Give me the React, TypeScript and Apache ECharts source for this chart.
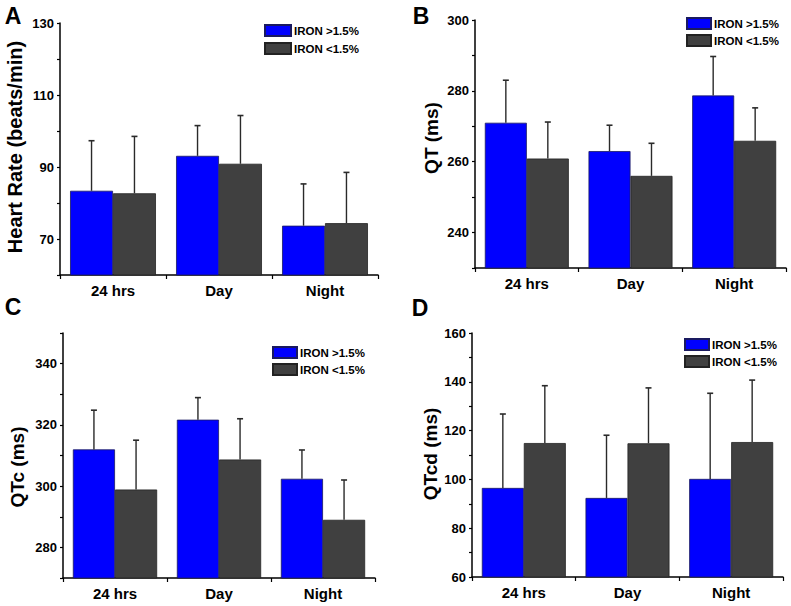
import React, { useEffect, useRef } from 'react';
import * as echarts from 'echarts';

const categories = ['24 hrs', 'Day', 'Night'];
const legendNames = ['IRON >1.5%', 'IRON <1.5%'];

// Panel A: Heart Rate (beats/min)
const hrHighMean = [83.4, 93.1, 73.7];
const hrHighSd = [13.9, 8.4, 11.6];
const hrLowMean = [82.7, 90.9, 74.4];
const hrLowSd = [15.8, 13.4, 14.1];
const hrLabels = [70, 90, 110, 130];

// Panel B: QT (ms)
const qtHighMean = [271.0, 263.0, 278.7];
const qtHighSd = [12.0, 7.3, 11.0];
const qtLowMean = [260.9, 256.0, 265.9];
const qtLowSd = [10.3, 9.2, 9.3];
const qtLabels = [240, 260, 280, 300];

// Panel C: QTc (ms)
const qtcHighMean = [312.0, 321.7, 302.4];
const qtcHighSd = [12.8, 7.2, 9.4];
const qtcLowMean = [298.9, 308.7, 289.0];
const qtcLowSd = [16.1, 13.3, 13.0];
const qtcLabels = [280, 300, 320, 340];

// Panel D: QTcd (ms)
const qtcdHighMean = [96.5, 92.4, 100.2];
const qtcdHighSd = [30.3, 25.7, 35.1];
const qtcdLowMean = [114.9, 114.8, 115.3];
const qtcdLowSd = [23.5, 22.7, 25.4];
const qtcdLabels = [60, 80, 100, 120, 140, 160];

const FONT = 'Arial, "Liberation Sans", Helvetica, sans-serif';
const BLUE = '#0000ff';
const GRAY = '#404040';
const ERR = '#2a2a2a';

const panels = [
  {
    letter: 'A', title: 'Heart Rate (beats/min)', titleSize: 20,
    hi: hrHighMean, hiSd: hrHighSd, lo: hrLowMean, loSd: hrLowSd, labels: hrLabels,
    min: 60, max: 130,
    grid: { left: 60, top: 23, width: 318, height: 252 },
    letterPos: [13, 16], titlePos: [15, 147], legendPos: [264, 24], legendItem: [26, 11], legendGap: 5,
  },
  {
    letter: 'B', title: 'QT (ms)', titleSize: 19,
    hi: qtHighMean, hiSd: qtHighSd, lo: qtLowMean, loSd: qtLowSd, labels: qtLabels,
    min: 230, max: 300,
    grid: { left: 475, top: 20, width: 311, height: 248 },
    letterPos: [421, 16], titlePos: [431, 138], legendPos: [686, 17], legendItem: [24, 11], legendGap: 4,
  },
  {
    letter: 'C', title: 'QTc (ms)', titleSize: 19,
    hi: qtcHighMean, hiSd: qtcHighSd, lo: qtcLowMean, loSd: qtcLowSd, labels: qtcLabels,
    min: 270, max: 350,
    grid: { left: 63, top: 333, width: 312, height: 245 },
    letterPos: [13, 307], titlePos: [17, 467], legendPos: [272, 346], legendItem: [24, 11], legendGap: 4,
  },
  {
    letter: 'D', title: 'QTcd (ms)', titleSize: 19,
    hi: qtcdHighMean, hiSd: qtcdHighSd, lo: qtcdLowMean, loSd: qtcdLowSd, labels: qtcdLabels,
    min: 60, max: 160,
    grid: { left: 472, top: 333, width: 311, height: 244 },
    letterPos: [420, 308], titlePos: [430, 454], legendPos: [684, 338], legendItem: [24, 11], legendGap: 4,
  },
];

function errRender(side: number) {
  return (params: any, api: any) => {
    const idx = api.value(0);
    const m = api.value(1);
    const s = api.value(2);
    const band = api.size([1, 0])[0];
    const base = api.coord([idx, m]);
    const top = api.coord([idx, m + s]);
    const x = base[0] + side * band * 0.2025;
    return {
      type: 'group',
      children: [
        { type: 'line', shape: { x1: x, y1: base[1], x2: x, y2: top[1] }, style: { stroke: ERR, lineWidth: 1.4 } },
        { type: 'line', shape: { x1: x - 3, y1: top[1], x2: x + 3, y2: top[1] }, style: { stroke: ERR, lineWidth: 1.6 } },
      ],
    };
  };
}

export default function App() {
  const ref = useRef<HTMLDivElement>(null);
  useEffect(() => {
    if (!ref.current) return;
    const chart = echarts.init(ref.current, null, { renderer: 'svg' });
    const grid: any[] = [];
    const xAxis: any[] = [];
    const yAxis: any[] = [];
    const series: any[] = [];
    const legend: any[] = [];
    const graphic: any[] = [];
    panels.forEach((p, i) => {
      grid.push({ ...p.grid, containLabel: false });
      xAxis.push({
        type: 'category', gridIndex: i, data: categories, position: 'bottom',
        axisLine: { lineStyle: { color: '#000', width: 1.5 } },
        axisTick: { alignWithLabel: true, length: 4, lineStyle: { color: '#000', width: 1.2 } },
        axisLabel: { color: '#000', fontFamily: FONT, fontWeight: 'bold', fontSize: 15, margin: 8 },
        splitLine: { show: false },
      });
      xAxis.push({
        type: 'category', gridIndex: i, data: categories, position: 'bottom',
        axisLine: { show: false },
        axisTick: { show: true, length: 4, lineStyle: { color: '#000', width: 1.2 } },
        axisLabel: { show: false },
        splitLine: { show: false },
      });
      const labels = p.labels;
      yAxis.push({
        type: 'value', gridIndex: i, min: p.min, max: p.max, interval: 10,
        axisLine: { show: true, lineStyle: { color: '#000', width: 1.5 } },
        axisTick: { show: true, length: 3, lineStyle: { color: '#000', width: 1.2 } },
        axisLabel: {
          color: '#000', fontFamily: FONT, fontWeight: 'bold', fontSize: 13, margin: 6,
          formatter: (v: number) => (labels.indexOf(v) >= 0 ? String(v) : ''),
        },
        splitLine: { show: false },
      });
      const xi = i * 2;
      series.push({
        name: legendNames[0], type: 'bar', xAxisIndex: xi, yAxisIndex: i, data: p.hi,
        barWidth: '40.5%', barGap: '0%',
        itemStyle: { color: BLUE, borderColor: '#1a1a60', borderWidth: 0.8 },
      });
      series.push({
        name: legendNames[1], type: 'bar', xAxisIndex: xi, yAxisIndex: i, data: p.lo,
        barWidth: '40.5%', barGap: '0%',
        itemStyle: { color: GRAY, borderColor: '#222', borderWidth: 0.8 },
      });
      series.push({
        type: 'custom', xAxisIndex: xi, yAxisIndex: i, z: 5,
        data: p.hi.map((m, k) => [k, m, p.hiSd[k]]),
        encode: { x: 0, y: 1 },
        renderItem: errRender(-1),
      });
      series.push({
        type: 'custom', xAxisIndex: xi, yAxisIndex: i, z: 5,
        data: p.lo.map((m, k) => [k, m, p.loSd[k]]),
        encode: { x: 0, y: 1 },
        renderItem: errRender(1),
      });
      legend.push({
        data: legendNames, orient: 'vertical', left: p.legendPos[0], top: p.legendPos[1],
        padding: 0, itemWidth: p.legendItem[0], itemHeight: p.legendItem[1], itemGap: p.legendGap,
        icon: 'rect', selectedMode: false,
        textStyle: { color: '#000', fontFamily: FONT, fontWeight: 'bold', fontSize: 11.5, padding: [0, 0, 0, -2] },
      });
      graphic.push({
        type: 'text', x: p.letterPos[0], y: p.letterPos[1],
        style: { text: p.letter, fill: '#000', font: `bold 23px ${FONT}`, align: 'center', verticalAlign: 'middle' },
      });
      graphic.push({
        type: 'text', x: p.titlePos[0], y: p.titlePos[1], rotation: Math.PI / 2,
        style: { text: p.title, fill: '#000', font: `bold ${p.titleSize}px ${FONT}`, align: 'center', verticalAlign: 'middle' },
      });
    });
    chart.setOption({
      animation: false,
      backgroundColor: '#fff',
      grid, xAxis, yAxis, series, legend, graphic,
    });
    return () => chart.dispose();
  }, []);
  return (
    <div
      ref={ref}
      style={{ position: 'absolute', left: 0, top: 0, width: 791, height: 606, background: '#fff' }}
    />
  );
}
